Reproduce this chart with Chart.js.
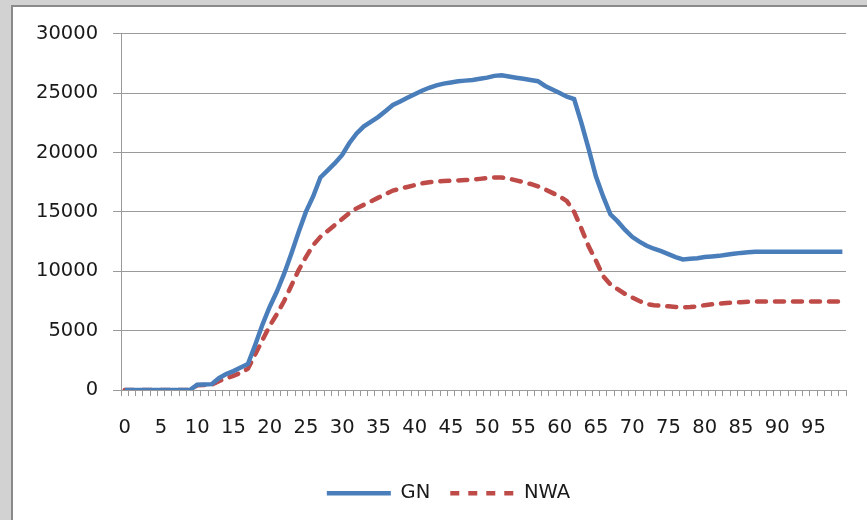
<!DOCTYPE html>
<html>
<head>
<meta charset="utf-8">
<script src="https://cdn.jsdelivr.net/npm/chart.js@4/dist/chart.umd.min.js"></script>
<style>
  html, body { margin: 0; padding: 0; }
  body { width: 867px; height: 520px; background: #d2d2d2; overflow: hidden; position: relative; }
  #frame {
    position: absolute; left: 11px; top: 5px; width: 890px; height: 520px;
    background: #fff; border-left: 2px solid #8a8a8a; border-top: 2px solid #8a8a8a;
  }
  #wrap { position: absolute; left: 0; top: 0; width: 874px; height: 513px; }
</style>
</head>
<body>
<div id="frame"><div id="wrap"><canvas id="chart"></canvas></div></div>
<script>
// x categories 0..99
const categories = [
  0, 1, 2, 3, 4, 5, 6, 7, 8, 9, 10, 11, 12, 13, 14, 15, 16, 17, 18, 19,
  20, 21, 22, 23, 24, 25, 26, 27, 28, 29, 30, 31, 32, 33, 34, 35, 36, 37, 38, 39,
  40, 41, 42, 43, 44, 45, 46, 47, 48, 49, 50, 51, 52, 53, 54, 55, 56, 57, 58, 59,
  60, 61, 62, 63, 64, 65, 66, 67, 68, 69, 70, 71, 72, 73, 74, 75, 76, 77, 78, 79,
  80, 81, 82, 83, 84, 85, 86, 87, 88, 89, 90, 91, 92, 93, 94, 95, 96, 97, 98, 99
];

// GN series (solid blue)
const gnValues = [
  0, 0, 0, 0, 0, 0, 0, 0, 0, 0,
  450, 470, 500, 1000, 1350, 1600, 1900, 2200, 3800, 5500,
  7000, 8300, 9800, 11500, 13300, 15000, 16300, 17900, 18500, 19100,
  19800, 20800, 21600, 22200, 22600, 23000, 23500, 24000, 24300, 24600,
  24900, 25200, 25450, 25650, 25800, 25900, 26000, 26050, 26100, 26200,
  26300, 26450, 26500, 26400, 26300, 26200, 26100, 26000, 25600, 25300,
  25000, 24700, 24500, 22500, 20300, 18000, 16300, 14800, 14200, 13500,
  12900, 12500, 12150, 11900, 11700, 11450, 11200, 11000, 11050, 11100,
  11200, 11250, 11300, 11400, 11480, 11550, 11600, 11650, 11650, 11650,
  11650, 11650, 11650, 11650, 11650, 11650, 11650, 11650, 11650, 11650
];

// NWA series (dashed red)
const nwaValues = [
  0, 0, 0, 0, 0, 0, 0, 0, 0, 0,
  400, 420, 450, 750, 1000, 1200, 1450, 1800, 3000, 4200,
  5400, 6400, 7500, 8800, 10100, 11200, 12200, 12900, 13400, 13900,
  14400, 14900, 15300, 15600, 15900, 16200, 16500, 16800, 16950, 17100,
  17250, 17400, 17500, 17550, 17600, 17620, 17650, 17680, 17720, 17780,
  17850, 17900, 17900, 17800, 17650, 17500, 17350, 17150, 16900, 16600,
  16300, 15900, 15000, 13600, 12100, 10900, 9600, 8900, 8500, 8100,
  7800, 7500, 7250, 7150, 7100, 7050, 7000, 6980, 6990, 7050,
  7150, 7220, 7280, 7330, 7370, 7400, 7430, 7450, 7450, 7450,
  7450, 7450, 7450, 7450, 7450, 7450, 7450, 7450, 7450, 7450
];

const GN_COLOR = '#4a7ebb';
const NWA_COLOR = '#be4b48';
const AXIS_GREY = '#9a9a9a';
const TEXT_COLOR = '#1a1a1a';
const LINE_W = 4.5;
const FONT = { family: 'DejaVu Sans', size: 19.5 };

// nudge the legend a little to the right, like the original
const legendShift = {
  id: 'legendShift',
  afterLayout(chart) {
    if (chart.legend) {
      chart.legend.left += 15;
      chart.legend.right += 15;
    }
  }
};

const ctx = document.getElementById('chart').getContext('2d');

const chart = new Chart(ctx, {
  type: 'line',
  data: {
    labels: categories,
    datasets: [{
      label: 'GN',
      data: gnValues,
      borderColor: GN_COLOR,
      backgroundColor: GN_COLOR,
      borderWidth: LINE_W,
      pointRadius: 0,
      tension: 0,
      fill: false
    }, {
      label: 'NWA',
      data: nwaValues,
      borderColor: NWA_COLOR,
      backgroundColor: NWA_COLOR,
      borderWidth: LINE_W,
      borderDash: [9, 9],
      borderCapStyle: 'round',
      pointRadius: 0,
      tension: 0,
      fill: false
    }]
  },
  options: {
    responsive: true,
    maintainAspectRatio: false,
    animation: false,
    layout: {
      padding: { top: 17, right: 41, left: 8, bottom: 7 }
    },
    scales: {
      x: {
        type: 'category',
        offset: true,
        grid: {
          offset: true,
          drawOnChartArea: false,
          drawTicks: true,
          tickLength: 6,
          color: AXIS_GREY
        },
        border: { color: AXIS_GREY },
        ticks: {
          autoSkip: false,
          maxRotation: 0,
          padding: 20,
          color: TEXT_COLOR,
          font: FONT,
          callback: function(value, index) {
            return index % 5 === 0 ? this.getLabelForValue(value) : '';
          }
        },
        afterFit: function(scale) {
          scale.height += 4;
        }
      },
      y: {
        min: 0,
        max: 30000,
        grid: {
          color: AXIS_GREY,
          tickLength: 8
        },
        border: { color: AXIS_GREY },
        ticks: {
          stepSize: 5000,
          padding: 15,
          color: TEXT_COLOR,
          font: FONT,
          callback: value => String(value)
        }
      }
    },
    plugins: {
      legend: {
        position: 'bottom',
        labels: {
          usePointStyle: true,
          pointStyle: 'line',
          pointStyleWidth: 64,
          boxWidth: 62,
          boxHeight: 4,
          color: TEXT_COLOR,
          padding: 20,
          font: FONT,
          generateLabels: function(chart) {
            return chart.data.datasets.map((ds, i) => ({
              text: ds.label,
              datasetIndex: i,
              fillStyle: ds.borderColor,
              strokeStyle: ds.borderColor,
              lineWidth: LINE_W,
              lineDash: ds.borderDash || [],
              lineCap: 'butt',
              pointStyle: 'line',
              fontColor: TEXT_COLOR,
              hidden: false
            }));
          }
        }
      },
      tooltip: { enabled: false }
    }
  },
  plugins: [legendShift]
});
</script>
</body>
</html>
